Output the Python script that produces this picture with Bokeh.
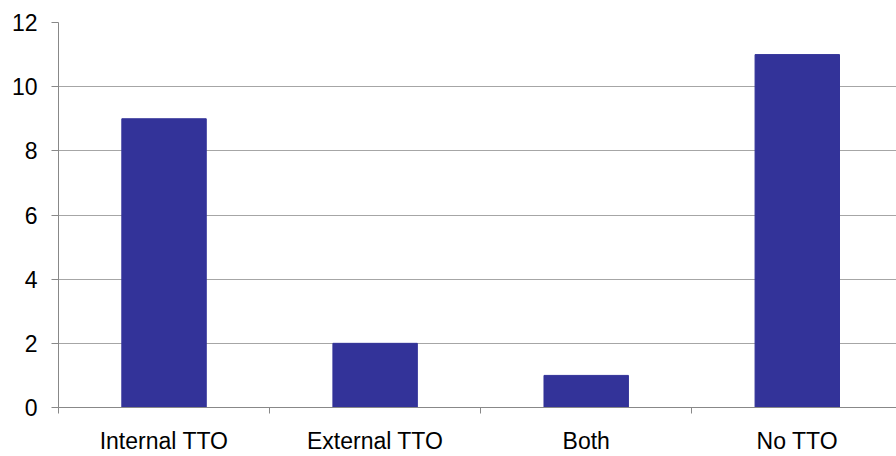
from bokeh.plotting import figure
from bokeh.models import FixedTicker, Range1d
from bokeh.embed import file_html
from bokeh.resources import INLINE

categories = ["Internal TTO", "External TTO", "Both", "No TTO"]
values = [9, 2, 1, 11]
y_ticks = [0, 2, 4, 6, 8, 10, 12]

xs = [i + 0.5 for i in range(len(categories))]

p = figure(width=896, height=456, output_backend="svg", toolbar_location=None,
           x_range=Range1d(0, 3.97), y_range=Range1d(0, 12))
p.min_border_left = 58
p.min_border_right = 0
p.min_border_top = 22
p.min_border_bottom = 46
p.outline_line_color = None
p.background_fill_color = "white"
p.border_fill_color = "white"

p.vbar(x=xs, top=values, width=0.40, fill_color="#333399", line_color="#333399")

font = "Liberation Sans"
# x axis
p.xaxis.ticker = FixedTicker(ticks=xs, minor_ticks=list(range(len(categories) + 1)))
p.xaxis.major_label_overrides = {x: c for x, c in zip(xs, categories)}
p.xaxis.major_tick_out = 0
p.xaxis.major_tick_in = 0
p.xaxis.minor_tick_out = 6
p.xaxis.minor_tick_in = 0
p.xaxis.minor_tick_line_color = "#888888"
p.xaxis.axis_line_color = "#888888"
p.xaxis.major_label_text_font = font
p.xaxis.major_label_text_font_size = "23px"
p.xaxis.major_label_text_color = "black"
p.xaxis.major_label_standoff = 14

# y axis
p.yaxis.ticker = FixedTicker(ticks=y_ticks)
p.yaxis.major_tick_out = 7
p.yaxis.major_tick_in = 0
p.yaxis.minor_tick_line_color = None
p.yaxis.axis_line_color = "#888888"
p.yaxis.major_tick_line_color = "#888888"
p.yaxis.major_label_text_font = font
p.yaxis.major_label_text_font_size = "23px"
p.yaxis.major_label_text_color = "black"
p.yaxis.major_label_standoff = 14

p.xgrid.grid_line_color = None
p.ygrid.grid_line_color = "#a6a6a6"
p.ygrid.ticker = FixedTicker(ticks=y_ticks[1:])

open("out.html", "w").write(file_html(p, INLINE))
